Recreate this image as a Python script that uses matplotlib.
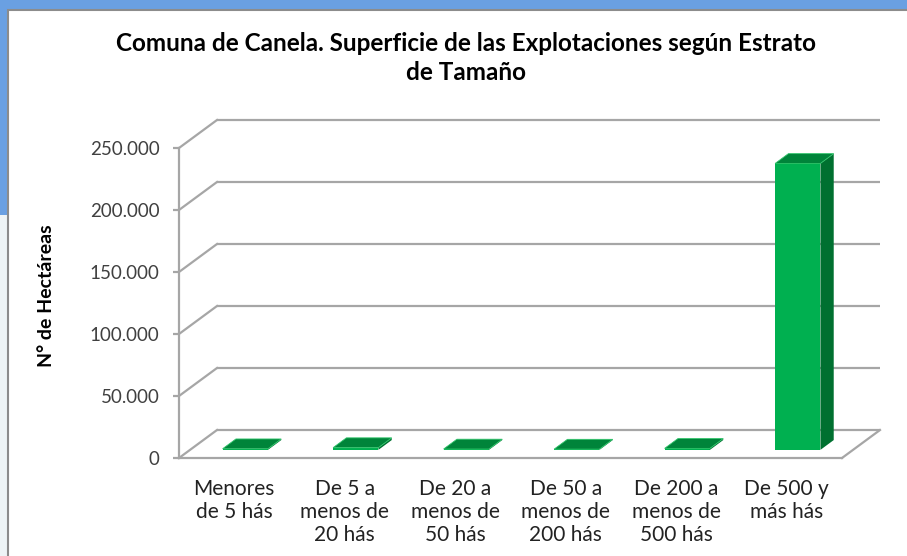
import matplotlib
matplotlib.use("Agg")
import matplotlib.pyplot as plt
from matplotlib.patches import Rectangle, Polygon

plt.rcParams['font.family'] = ['Lato', 'DejaVu Sans']

# ---- data ----
categories = [
    "Menores\nde 5 hás",
    "De 5 a\nmenos de\n20 hás",
    "De 20 a\nmenos de\n50 hás",
    "De 50 a\nmenos de\n200 hás",
    "De 200 a\nmenos de\n500 hás",
    "De 500 y\nmás hás",
]
hectares = [900, 1800, 700, 600, 1200, 231000]
y_ticks = [0, 50000, 100000, 150000, 200000, 250000]
y_tick_labels = ["0", "50.000", "100.000", "150.000", "200.000", "250.000"]
title = "Comuna de Canela. Superficie de las Explotaciones según Estrato\nde Tamaño"
y_label = "N° de Hectáreas"

# ---- style ----
W, H, DPI = 907, 556, 100
GRID = "#a6a6a6"
TXT = "#404040"
FRONT = "#00b050"
SIDE = "#007030"
TOP = "#00843a"

fig = plt.figure(figsize=(W / DPI, H / DPI), dpi=DPI)
fig.patch.set_facecolor("#6aa0e2")

# window frame background
bg = fig.add_axes([0, 0, 1, 1], zorder=-5)
bg.set_xlim(0, W); bg.set_ylim(H, 0); bg.axis("off")
bg.add_patch(Rectangle((0, 215), 8, H - 215, facecolor="#eef4f6", edgecolor="none"))
bg.add_patch(Rectangle((8, 10), W, H, facecolor="white", edgecolor="#8c8c8c", linewidth=1.5))

# plot axes = front plane
left, right, top, bottom = 179, 842, 148, 458
ax = fig.add_axes([left / W, 1 - bottom / H, (right - left) / W, (bottom - top) / H])
ax.set_facecolor("none")
n = len(categories)
ax.set_xlim(-0.5, n - 0.5)
ax.set_ylim(0, 250000)

px_x = (n) / (right - left)          # data units per pixel (x)
px_y = 250000 / (bottom - top)       # data units per pixel (y)
DX = 38 * px_x
DY = 28 * px_y

# back wall gridlines and connecting diagonals
for v in y_ticks:
    ax.plot([-0.5 + DX, n - 0.5 + DX], [v + DY, v + DY], color=GRID, lw=1.6,
            clip_on=False, zorder=1, solid_capstyle="butt")
    ax.plot([-0.5, -0.5 + DX], [v, v + DY], color=GRID, lw=1.6, clip_on=False, zorder=1)
# floor right edge
ax.plot([n - 0.5, n - 0.5 + DX], [0, DY], color=GRID, lw=1.6, clip_on=False, zorder=1)

# bars
w = 0.41
d0, d1 = 0.29, 0.64
for i, v in enumerate(hectares):
    xl = i - w / 2
    xr = i + w / 2
    ax.add_patch(Rectangle((xl + d0 * DX, d0 * DY), w, v, facecolor=FRONT,
                           edgecolor="none", zorder=3, clip_on=False))
    side = [(xr + d0 * DX, d0 * DY), (xr + d1 * DX, d1 * DY),
            (xr + d1 * DX, v + d1 * DY), (xr + d0 * DX, v + d0 * DY)]
    ax.add_patch(Polygon(side, closed=True, facecolor=SIDE, edgecolor="none",
                         zorder=3, clip_on=False))
    topf = [(xl + d0 * DX, v + d0 * DY), (xr + d0 * DX, v + d0 * DY),
            (xr + d1 * DX, v + d1 * DY), (xl + d1 * DX, v + d1 * DY)]
    ax.add_patch(Polygon(topf, closed=True, facecolor=TOP, edgecolor="#2fc46a",
                         linewidth=0.6, zorder=4, clip_on=False))

# axes styling
for s in ["top", "right"]:
    ax.spines[s].set_visible(False)
for s in ["left", "bottom"]:
    ax.spines[s].set_color(GRID)
    ax.spines[s].set_linewidth(1.6)
    ax.spines[s].set_zorder(2)
ax.set_yticks(y_ticks)
ax.set_yticklabels(y_tick_labels)
ax.tick_params(axis="y", direction="out", length=4, width=1.6, color=GRID,
               labelsize=13.5, labelcolor=TXT, pad=10)
ax.set_xticks(range(n))
ax.set_xticklabels(categories, linespacing=1.2)
ax.tick_params(axis="x", length=0, labelsize=15, labelcolor="#222222", pad=15)

fig.text(466 / W, 1 - 32 / H, title, ha="center", va="top", fontsize=17.5,
         fontweight="bold", color="black", linespacing=1.3)
fig.text(47 / W, 1 - 296 / H, y_label, ha="center", va="center", rotation=90,
         fontsize=14, fontweight="bold", color="black")

fig.savefig("out.png", dpi=DPI, facecolor=fig.get_facecolor())
